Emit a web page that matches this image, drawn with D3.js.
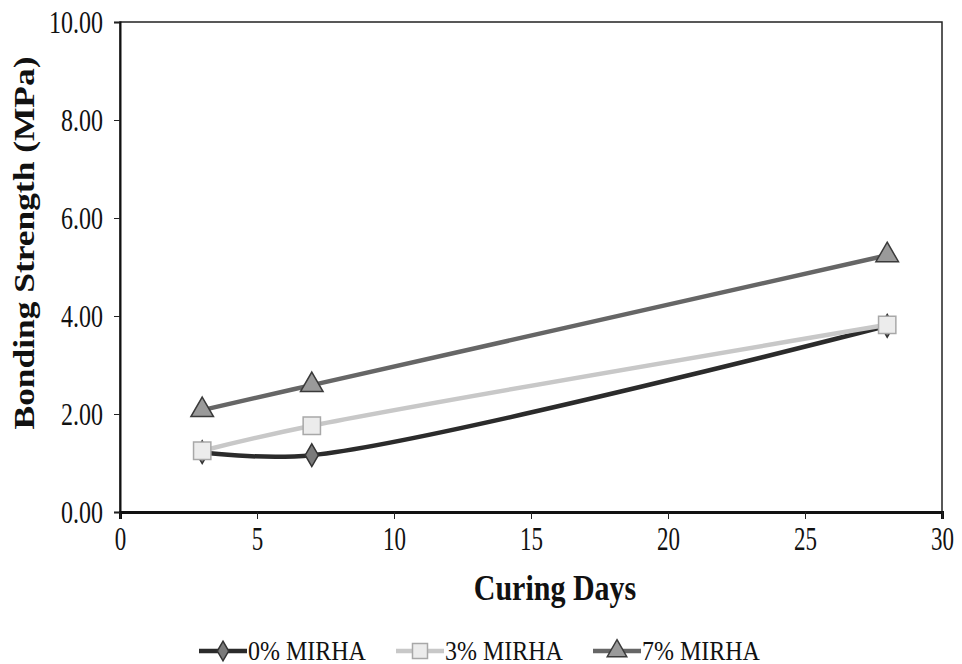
<!DOCTYPE html>
<html>
<head>
<meta charset="utf-8">
<script src="https://cdn.jsdelivr.net/npm/d3@7"></script>
<style>
  body { margin: 0; background: #fff; }
  text { font-family: "Liberation Serif", "Times New Roman", serif; fill: #111; }
</style>
</head>
<body>
<div id="chart"></div>
<script>
// curing days on x
var days = [3, 7, 28];
var mirha0 = [1.22, 1.16, 3.80];
var mirha3 = [1.25, 1.76, 3.82];
var mirha7 = [2.08, 2.59, 5.24];
var seriesNames = ["0% MIRHA", "3% MIRHA", "7% MIRHA"];
var xTicks = [0, 5, 10, 15, 20, 25, 30];
var yTicks = [0, 2, 4, 6, 8, 10];

var width = 962, height = 664;
var margin = { left: 120, right: 20, top: 22, bottom: 152 };

var svg = d3.select("#chart").append("svg")
  .attr("width", width)
  .attr("height", height);

var x = d3.scaleLinear().domain([0, 30]).range([margin.left, width - margin.right]);
var y = d3.scaleLinear().domain([0, 10]).range([height - margin.bottom, margin.top]);

// frame
svg.append("rect")
  .attr("x", x(0)).attr("y", y(10))
  .attr("width", x(30) - x(0)).attr("height", y(0) - y(10))
  .attr("fill", "none").attr("stroke", "#222").attr("stroke-width", 1.5);

// x axis
var xAxis = svg.append("g")
  .attr("transform", "translate(0," + y(0) + ")")
  .call(d3.axisBottom(x).tickValues(xTicks).tickSize(7).tickPadding(3));
xAxis.select(".domain").attr("stroke", "#111").attr("stroke-width", 3);
xAxis.selectAll("line").attr("stroke", "#222");
xAxis.selectAll("text").style("font-size", "23px").attr("fill", "#111")
  .attr("transform", "scale(1,1.45)");

// y axis
var yAxis = svg.append("g")
  .attr("transform", "translate(" + x(0) + ",0)")
  .call(d3.axisLeft(y).tickValues(yTicks).tickSize(6).tickPadding(11).tickFormat(d3.format(".2f")));
yAxis.select(".domain").attr("stroke", "#111").attr("stroke-width", 2);
yAxis.selectAll("line").attr("stroke", "#222");
yAxis.selectAll("text").style("font-size", "24px").attr("fill", "#111").attr("dy", "0.35em")
  .attr("transform", "scale(1,1.3)");

// titles
svg.append("text")
  .attr("transform", "translate(34,243) rotate(-90) scale(1.18,1)")
  .attr("text-anchor", "middle")
  .style("font-size", "30px").style("font-weight", "bold")
  .text("Bonding Strength (MPa)");

svg.append("text")
  .attr("transform", "translate(" + ((x(0) + x(30)) / 2 + 24) + ",600) scale(1,1.2)")
  .attr("text-anchor", "middle")
  .style("font-size", "30px").style("font-weight", "bold")
  .text("Curing Days");

var styles = [
  { line: "#2b2b2b", fill: "#7a7a7a", stroke: "#333", shape: d3.symbolDiamond, size: 150 },
  { line: "#c8c8c8", fill: "#ececec", stroke: "#a8a8a8", shape: d3.symbolSquare, size: 300 },
  { line: "#666666", fill: "#9a9a9a", stroke: "#3a3a3a", shape: d3.symbolTriangle, size: 220 }
];
var allSeries = [mirha0, mirha3, mirha7];

var line = d3.line()
  .x(function (d, i) { return x(days[i]); })
  .y(function (d) { return y(d); })
  .curve(d3.curveCatmullRom.alpha(0.5));

allSeries.forEach(function (vals, k) {
  var st = styles[k];
  svg.append("path")
    .datum(vals)
    .attr("fill", "none")
    .attr("stroke", st.line)
    .attr("stroke-width", 4.5)
    .attr("d", line);
});

allSeries.forEach(function (vals, k) {
  var st = styles[k];
  svg.selectAll(".m" + k)
    .data(vals)
    .enter().append("path")
    .attr("transform", function (d, i) { return "translate(" + x(days[i]) + "," + y(d) + ")"; })
    .attr("d", d3.symbol().type(st.shape).size(st.size))
    .attr("fill", st.fill)
    .attr("stroke", st.stroke)
    .attr("stroke-width", 1.5);
});

// legend
var legendX = [199, 396, 593];
var legendY = 651;
seriesNames.forEach(function (name, k) {
  var st = styles[k];
  var g = svg.append("g").attr("transform", "translate(" + legendX[k] + "," + legendY + ")");
  g.append("line").attr("x1", 0).attr("x2", 48).attr("y1", 0).attr("y2", 0)
    .attr("stroke", st.line).attr("stroke-width", 4.5);
  g.append("path").attr("transform", "translate(24,0)")
    .attr("d", d3.symbol().type(st.shape).size(st.size * 0.75))
    .attr("fill", st.fill).attr("stroke", st.stroke).attr("stroke-width", 1.5);
  g.append("text").attr("x", 49).attr("y", 0).attr("dy", "0.35em")
    .attr("transform", "scale(1,1.1)")
    .style("font-size", "24px").text(name);
});
</script>
</body>
</html>
